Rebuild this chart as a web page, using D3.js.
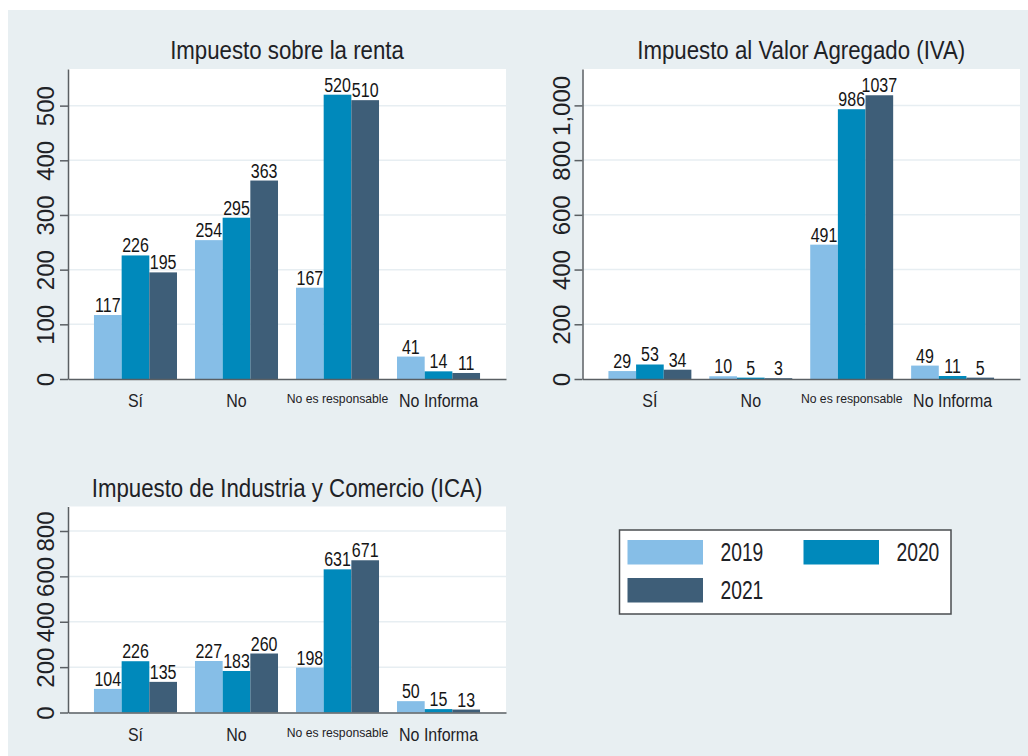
<!DOCTYPE html>
<html>
<head>
<meta charset="utf-8">
<script src="https://cdn.jsdelivr.net/npm/d3@7"></script>
<style>
  body { margin: 0; background: #fff; }
  svg { display: block; }
  text { font-family: "Liberation Sans", Arial, sans-serif; }
</style>
</head>
<body>
<div id="chart"></div>
<script>
// data
let categories = ["Sí", "No", "No es responsable", "No Informa"];
let categoriesIva = ["SÍ", "No", "No es responsable", "No Informa"];
let years = ["2019", "2020", "2021"];

let renta = [[117, 226, 195], [254, 295, 363], [167, 520, 510], [41, 14, 11]];
let iva = [[29, 53, 34], [10, 5, 3], [491, 986, 1037], [49, 11, 5]];
let ica = [[104, 226, 135], [227, 183, 260], [198, 631, 671], [50, 15, 13]];

let rentaTicks = [0, 100, 200, 300, 400, 500];
let ivaTicks = [0, 200, 400, 600, 800, 1000];
let icaTicks = [0, 200, 400, 600, 800];

let colors = ["#86bee7", "#0089bb", "#3e5e78"];

let width = 1028, height = 756;

let svg = d3.select("#chart")
.append("svg")
.attr("width", width)
.attr("height", height);

svg.append("rect")
.attr("x", 8).attr("y", 10)
.attr("width", width - 8).attr("height", height - 10)
.attr("fill", "#e8eff2");

let color = d3.scaleOrdinal().domain(years).range(colors);
let fmt = d3.format(",");

// squeezed text, the stata fonts are condensed
function squeeze(x, y, s) {
  return "translate(" + x + "," + y + ") scale(" + s + ",1)";
}

let panels = [
  {title: "Impuesto sobre la renta", cats: categories, values: renta, ticks: rentaTicks, max: 567,
    left: 68, top: 69, w: 438, h: 310, titleY: 59, catY: 407, tickOff: 23},
  {title: "Impuesto al Valor Agregado (IVA)", cats: categoriesIva, values: iva, ticks: ivaTicks, max: 1133,
    left: 582.5, top: 69, w: 437.5, h: 310, titleY: 59, catY: 407, tickOff: 21},
  {title: "Impuesto de Industria y Comercio (ICA)", cats: categories, values: ica, ticks: icaTicks, max: 908,
    left: 68, top: 506.5, w: 438, h: 206, titleY: 497, catY: 741, tickOff: 23}
];

panels.forEach(drawPanel);

function drawPanel(p) {
  let g = svg.append("g").attr("transform", "translate(" + p.left + "," + p.top + ")");

  let x = d3.scaleBand().domain(p.cats).range([0, p.w]).paddingInner(0.178).paddingOuter(0.257);
  let x1 = d3.scaleBand().domain(years).range([0, x.bandwidth()]);
  let y = d3.scaleLinear().domain([0, p.max]).range([p.h, 0]);

  g.append("rect")
  .attr("width", p.w).attr("height", p.h)
  .attr("fill", "#fff");

  // grid
  g.selectAll(".grid")
  .data(p.ticks.filter(d => d > 0))
  .enter().append("line")
  .attr("x1", 0).attr("x2", p.w)
  .attr("y1", d => y(d)).attr("y2", d => y(d))
  .attr("stroke", "#e7eef2")
  .attr("stroke-width", 1.5);

  svg.append("text")
  .attr("transform", squeeze(p.left + p.w / 2, p.titleY, 0.89))
  .attr("text-anchor", "middle")
  .attr("font-size", 25)
  .attr("fill", "#1e2226")
  .text(p.title);

  let groups = g.selectAll(".grp")
  .data(p.values)
  .enter().append("g")
  .attr("transform", (d, i) => "translate(" + x(p.cats[i]) + ",0)");

  groups.selectAll("rect")
  .data(d => d)
  .enter().append("rect")
  .attr("x", (d, j) => x1(years[j]))
  .attr("y", d => y(d))
  .attr("width", x1.bandwidth())
  .attr("height", d => p.h - y(d))
  .attr("fill", (d, j) => color(years[j]));

  groups.selectAll("text")
  .data(d => d)
  .enter().append("text")
  .attr("transform", (d, j) => squeeze(x1(years[j]) + x1.bandwidth() / 2, y(d) - 3, 0.8))
  .attr("text-anchor", "middle")
  .attr("font-size", 20)
  .attr("fill", "#151515")
  .text(d => d);

  // y axis
  let yAxis = g.append("g")
  .call(d3.axisLeft(y).tickValues(p.ticks).tickFormat(fmt).tickSize(8).tickSizeOuter(0));
  yAxis.select(".domain").attr("stroke", "#5a5f63").attr("stroke-width", 1.5);
  yAxis.selectAll(".tick line").attr("stroke", "#5a5f63").attr("stroke-width", 1.5);
  yAxis.selectAll(".tick text")
  .attr("transform", "rotate(-90)")
  .attr("x", 0)
  .attr("y", -p.tickOff)
  .attr("dy", "0.36em")
  .attr("text-anchor", "middle")
  .attr("font-family", "'Liberation Sans', Arial, sans-serif")
  .attr("font-size", 24)
  .attr("fill", "#1e2226");

  // x axis
  let xAxis = g.append("g")
  .attr("transform", "translate(0," + p.h + ")")
  .call(d3.axisBottom(x).tickSize(0).tickSizeOuter(0));
  xAxis.select(".domain").attr("stroke", "#5a5f63").attr("stroke-width", 1.5);
  xAxis.selectAll(".tick text")
  .attr("y", 0)
  .attr("dy", 0)
  .attr("transform", d => d === "No es responsable"
    ? squeeze(0, p.catY - p.top - p.h - 4, 1)
    : squeeze(0, p.catY - p.top - p.h, 0.85))
  .attr("font-family", "'Liberation Sans', Arial, sans-serif")
  .attr("font-size", d => d === "No es responsable" ? 12.2 : 18.8)
  .attr("fill", "#1e2226");
}

// legend
let legend = svg.append("g").attr("transform", "translate(619.5,530)");

legend.append("rect")
.attr("width", 331.5).attr("height", 84)
.attr("fill", "#fff")
.attr("stroke", "#4a4d50")
.attr("stroke-width", 1.5);

let legendPos = [[8, 10], [184, 10], [8, 48]];

let items = legend.selectAll(".item")
.data(years)
.enter().append("g")
.attr("transform", (d, i) => "translate(" + legendPos[i][0] + "," + legendPos[i][1] + ")");

items.append("rect")
.attr("width", 75.5).attr("height", 24.5)
.attr("fill", d => color(d));

items.append("text")
.attr("transform", squeeze(93, 21, 0.77))
.attr("font-size", 25)
.attr("fill", "#1e2226")
.text(d => d);
</script>
</body>
</html>
